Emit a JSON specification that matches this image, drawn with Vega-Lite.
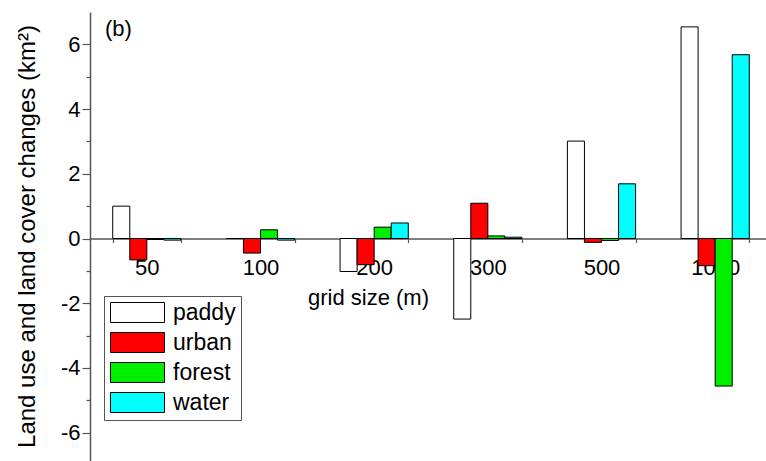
{
  "$schema": "https://vega.github.io/schema/vega-lite/v6.json",
  "width": 676,
  "height": 449,
  "autosize": {"type": "none"},
  "padding": {"left": 90, "top": 12, "right": 0, "bottom": 0},
  "title": {"text": "(b)", "anchor": "start", "frame": "group", "orient": "top", "offset": 0, "dx": 15, "dy": 46, "baseline": "alphabetic", "fontSize": 22, "fontWeight": "normal", "font": "Liberation Sans", "color": "#000"},
  "data": {"values": [
    {"grid": "50", "type": "paddy", "value": 1.0},
    {"grid": "50", "type": "urban", "value": -0.66},
    {"grid": "50", "type": "forest", "value": -0.03},
    {"grid": "50", "type": "water", "value": -0.05},
    {"grid": "100", "type": "paddy", "value": 0.0},
    {"grid": "100", "type": "urban", "value": -0.45},
    {"grid": "100", "type": "forest", "value": 0.27},
    {"grid": "100", "type": "water", "value": -0.05},
    {"grid": "200", "type": "paddy", "value": -1.02},
    {"grid": "200", "type": "urban", "value": -0.81},
    {"grid": "200", "type": "forest", "value": 0.35},
    {"grid": "200", "type": "water", "value": 0.48},
    {"grid": "300", "type": "paddy", "value": -2.49},
    {"grid": "300", "type": "urban", "value": 1.09},
    {"grid": "300", "type": "forest", "value": 0.08},
    {"grid": "300", "type": "water", "value": 0.04},
    {"grid": "500", "type": "paddy", "value": 3.01},
    {"grid": "500", "type": "urban", "value": -0.12},
    {"grid": "500", "type": "forest", "value": -0.06},
    {"grid": "500", "type": "water", "value": 1.69},
    {"grid": "1000", "type": "paddy", "value": 6.54},
    {"grid": "1000", "type": "urban", "value": -0.84},
    {"grid": "1000", "type": "forest", "value": -4.56},
    {"grid": "1000", "type": "water", "value": 5.68}
  ]},
  "layer": [
    {
      "mark": {"type": "bar", "stroke": "#000", "strokeWidth": 1, "opacity": 1},
      "encoding": {
        "x": {"field": "grid", "type": "nominal", "sort": ["50", "100", "200", "300", "500", "1000"],
          "scale": {"range": [0, 682], "paddingInner": 0.4, "paddingOuter": 0.2},
          "axis": {"orient": "bottom", "offset": -222.5, "labelAngle": 0, "labelFontSize": 22, "labelPadding": 15, "labelColor": "#000",
            "ticks": true, "tickBand": "extent", "tickSize": 4, "tickColor": "#555", "tickWidth": 1.2,
            "domainColor": "#555", "domainWidth": 1.5,
            "title": "grid size (m)", "titleFontSize": 22, "titleFontWeight": "normal", "titleColor": "#000",
            "titleX": 278, "titleY": 66, "titleAlign": "center", "titleBaseline": "alphabetic"}},
        "xOffset": {"field": "type", "type": "nominal", "sort": ["paddy", "urban", "forest", "water"], "scale": {"paddingInner": 0, "paddingOuter": 0}},
        "y": {"field": "value", "type": "quantitative",
          "scale": {"domain": [-6.876, 7], "nice": false, "zero": false},
          "axis": {"orient": "left", "values": [-6, -4, -2, 0, 2, 4, 6], "tickSize": 8, "tickColor": "#555", "tickWidth": 1.2,
            "labelExpr": "replace(datum.label, '\u2212', '-')",
            "domainColor": "#555", "domainWidth": 1.5, "labelFontSize": 22, "labelPadding": 2, "labelColor": "#000", "grid": false,
            "title": "Land use and land cover changes (km²)", "titleFontSize": 24, "titleFontWeight": "normal", "titleColor": "#000",
            "titleX": -63, "titleY": 224, "titleAngle": 270, "titleAlign": "center", "titleBaseline": "middle"}},
        "color": {"field": "type", "type": "nominal",
          "scale": {"domain": ["paddy", "urban", "forest", "water"], "range": ["#ffffff", "#ff0000", "#00ee00", "#00ffff"]},
          "legend": {"orient": "none", "legendX": 14, "legendY": 284, "title": null, "padding": 5,
            "strokeColor": "#555", "fillColor": "#fff", "symbolType": "M-1,-1H4.4V1H-1Z", "symbolSize": 400,
            "symbolStrokeColor": "#000", "symbolStrokeWidth": 1, "symbolOpacity": 1,
            "labelFontSize": 23, "labelOffset": 41, "labelColor": "#000", "rowPadding": 5, "labelFont": "Liberation Sans"}}
      }
    },
    {
      "mark": {"type": "rule", "opacity": 0},
      "encoding": {
        "y": {"field": "value", "type": "quantitative",
          "scale": {"domain": [-6.876, 7], "nice": false, "zero": false},
          "axis": {"orient": "left", "values": [-5, -3, -1, 1, 3, 5], "tickSize": 4, "tickColor": "#555", "tickWidth": 1.2,
            "labels": false, "domain": false, "grid": false, "title": null}}
      }
    }
  ],
  "resolve": {"axis": {"y": "independent"}},
  "config": {
    "font": "Liberation Sans",
    "view": {"stroke": null},
    "axis": {"labelFont": "Liberation Sans", "titleFont": "Liberation Sans"},
    "legend": {"labelFont": "Liberation Sans"}
  }
}
